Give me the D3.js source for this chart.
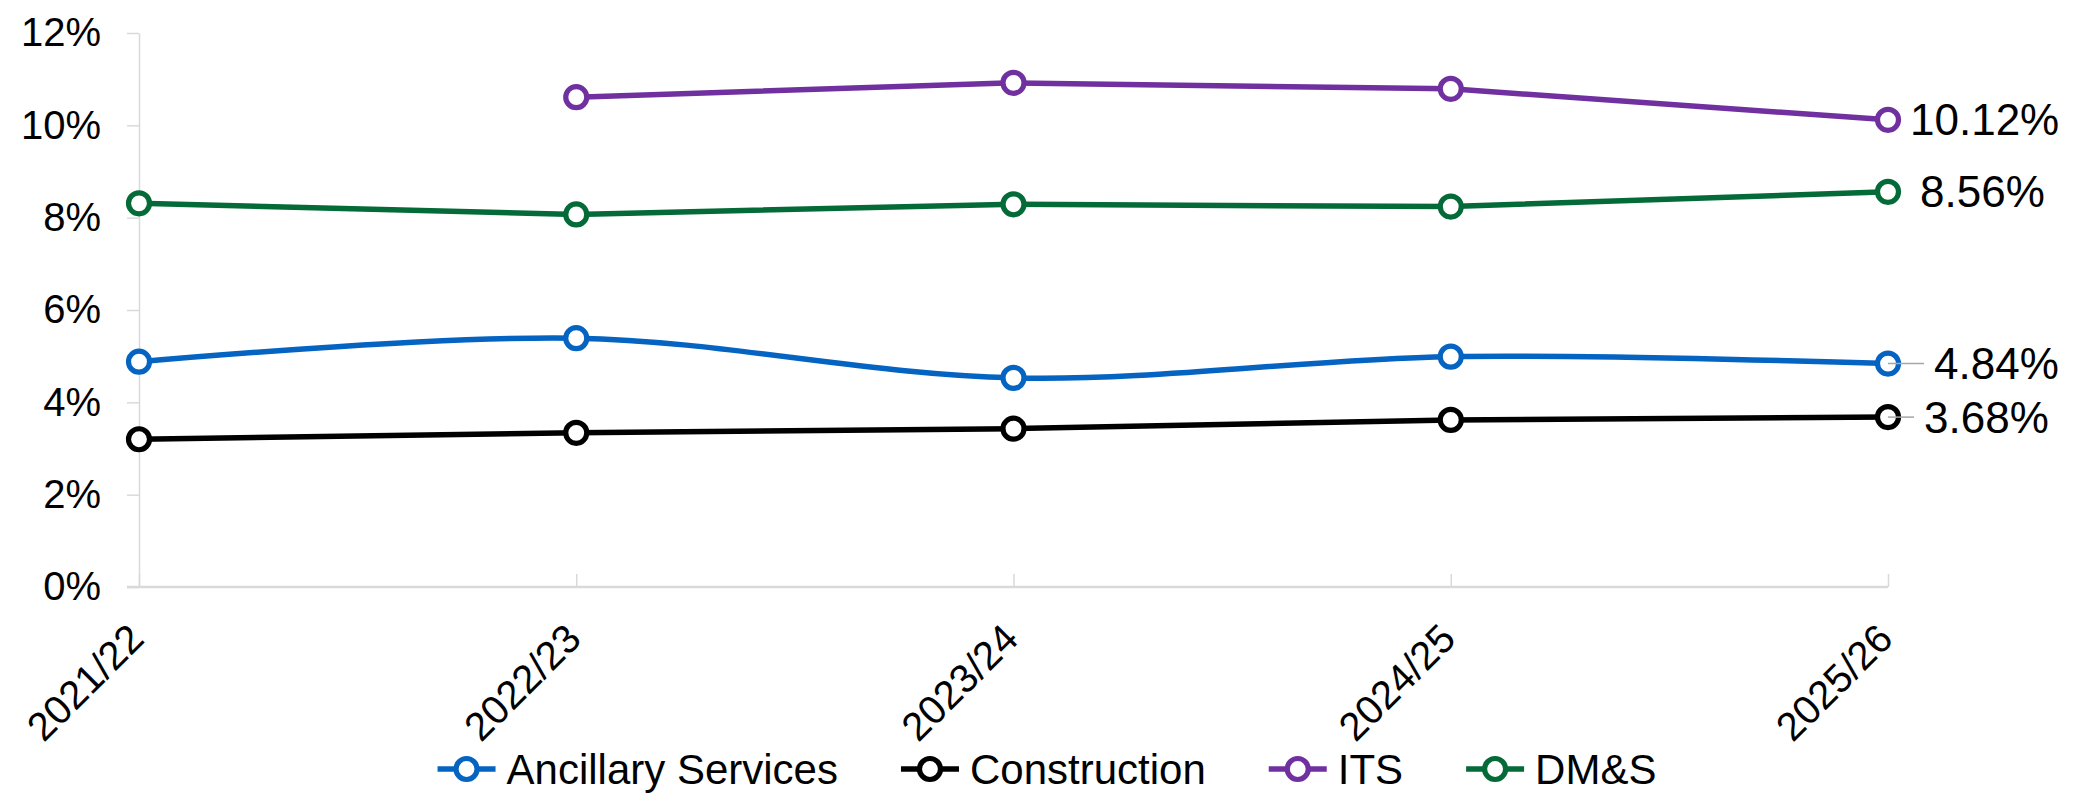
<!DOCTYPE html>
<html>
<head>
<meta charset="utf-8">
<script src="https://cdn.jsdelivr.net/npm/d3@7"></script>
<style>
  html, body { margin: 0; padding: 0; background: #ffffff; }
  svg text { font-family: "Liberation Sans", Arial, sans-serif; fill: #000; }
</style>
</head>
<body>
<svg id="chart" width="2078" height="794"></svg>
<script>
// Financial years on the category axis
const years = ["2021/22", "2022/23", "2023/24", "2024/25", "2025/26"];

// Series values, in percent
const ancillaryServices = [4.88, 5.39, 4.53, 4.99, 4.84];
const construction      = [3.20, 3.34, 3.43, 3.62, 3.68];
const its               = [null, 10.61, 10.92, 10.79, 10.12];
const dmas              = [8.31, 8.07, 8.29, 8.24, 8.56];

// Y axis tick values, in percent
const yTicks = [0, 2, 4, 6, 8, 10, 12];

const seriesNames  = ["Ancillary Services", "Construction", "ITS", "DM&S"];
const seriesValues = [ancillaryServices, construction, its, dmas];
const seriesColors = ["#0563C1", "#000000", "#7030A0", "#046A38"];
const seriesSmooth = [true, false, false, false];
// horizontal offset of the end-of-line value label, and whether a leader line is drawn
const labelDx      = [46, 36, 22, 32];
const labelLeader  = [true, true, false, false];

const svg = d3.select("#chart");
const margin = { left: 139, right: 190, top: 33, bottom: 207 };
const W = 2078, H = 794;

const x = d3.scalePoint().domain(years).range([margin.left, W - margin.right]);
const y = d3.scaleLinear().domain([0, 12]).range([H - margin.bottom, margin.top]);

const axisColor = "#d9d9d9";
const axisFont = 40;
const valueFont = 44;
const legendFont = 42;
const lineWidth = 5.5;
const markerR = 10.5;
const markerStroke = 5.2;

// Y axis: ticks pointing outward, light grey line
const yAxis = svg.append("g")
  .attr("transform", `translate(${margin.left},0)`)
  .call(d3.axisLeft(y).tickValues(yTicks).tickSize(12).tickSizeOuter(0).tickPadding(26)
    .tickFormat(d => d + "%"));
yAxis.select(".domain").attr("stroke", axisColor).attr("stroke-width", 1.5);
yAxis.selectAll(".tick line").attr("stroke", axisColor).attr("stroke-width", 1.5);
yAxis.selectAll(".tick text")
  .attr("font-size", axisFont)
  .style("font-family", "'Liberation Sans', Arial, sans-serif")
  .attr("fill", "#000");

// X axis: ticks pointing into the plot, rotated labels
const xAxis = svg.append("g")
  .attr("transform", `translate(0,${y(0)})`)
  .call(d3.axisBottom(x).tickSize(-13).tickSizeOuter(0).tickFormat(""));
xAxis.select(".domain")
  .attr("d", `M${margin.left - 12},0H${W - margin.right}`)
  .attr("stroke", axisColor).attr("stroke-width", 2.5);
xAxis.selectAll(".tick line").attr("stroke", axisColor).attr("stroke-width", 1.5);

svg.append("g").selectAll("text")
  .data(years)
  .join("text")
  .attr("transform", d => `translate(${x(d) + 7},${y(0) + 54}) rotate(-45)`)
  .attr("text-anchor", "end")
  .attr("font-size", axisFont)
  .text(d => d);

// Lines
const plot = svg.append("g");
seriesValues.forEach((vals, i) => {
  const pts = years.map((yr, j) => ({ yr, v: vals[j] })).filter(p => p.v != null);
  const line = d3.line()
    .x(p => x(p.yr))
    .y(p => y(p.v))
    .curve(seriesSmooth[i] ? d3.curveCardinal.tension(0) : d3.curveLinear);
  plot.append("path")
    .datum(pts)
    .attr("d", line)
    .attr("fill", "none")
    .attr("stroke", seriesColors[i])
    .attr("stroke-width", lineWidth)
    .attr("stroke-linejoin", "round");
});

// Markers
seriesValues.forEach((vals, i) => {
  const pts = years.map((yr, j) => ({ yr, v: vals[j] })).filter(p => p.v != null);
  plot.append("g").selectAll("circle")
    .data(pts)
    .join("circle")
    .attr("cx", p => x(p.yr))
    .attr("cy", p => y(p.v))
    .attr("r", markerR)
    .attr("fill", "#ffffff")
    .attr("stroke", seriesColors[i])
    .attr("stroke-width", markerStroke);
});

// Value labels on the last point of each series
seriesValues.forEach((vals, i) => {
  const last = vals.length - 1;
  const cx = x(years[last]), cy = y(vals[last]);
  if (labelLeader[i]) {
    svg.append("line")
      .attr("x1", cx).attr("y1", cy)
      .attr("x2", cx + labelDx[i] - 10).attr("y2", cy)
      .attr("stroke", "#a6a6a6").attr("stroke-width", 1.5);
  }
  svg.append("text")
    .attr("x", cx + labelDx[i])
    .attr("y", cy)
    .attr("dy", "0.35em")
    .attr("font-size", valueFont)
    .text(vals[last].toFixed(2) + "%");
});

// Legend, centred under the chart
const legend = svg.append("g").attr("transform", `translate(0,769)`);
const items = legend.selectAll("g.item")
  .data(seriesNames)
  .join("g")
  .attr("class", "item");
items.append("line")
  .attr("x1", 0).attr("x2", 58).attr("y1", 0).attr("y2", 0)
  .attr("stroke", (d, i) => seriesColors[i]).attr("stroke-width", lineWidth);
items.append("circle")
  .attr("cx", 29).attr("cy", 0).attr("r", markerR)
  .attr("fill", "#fff")
  .attr("stroke", (d, i) => seriesColors[i]).attr("stroke-width", markerStroke);
items.append("text")
  .attr("x", 69).attr("y", 0).attr("dy", "0.35em")
  .attr("font-size", legendFont)
  .text(d => d);

const widths = [];
items.each(function () {
  widths.push(69 + this.querySelector("text").getComputedTextLength());
});
const gap = 63;
const total = d3.sum(widths) + gap * (widths.length - 1);
let cursor = W / 2 + 8 - total / 2;
items.attr("transform", (d, i) => {
  const t = `translate(${cursor},0)`;
  cursor += widths[i] + gap;
  return t;
});
</script>
</body>
</html>
